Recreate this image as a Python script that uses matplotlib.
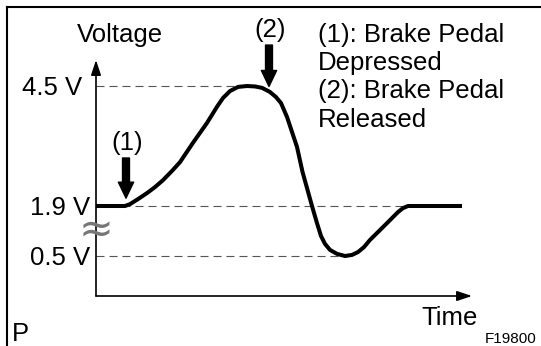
import numpy as np
import matplotlib.pyplot as plt
from matplotlib.lines import Line2D

plt.rcParams["font.family"] = ["Liberation Sans", "DejaVu Sans"]

# 制动踏板开关电压波形
time_s = [0, 2.9, 3.4, 4.2, 5.1, 5.9, 6.7, 7.6, 8.4, 9.7, 11.1, 12.1, 12.7, 13.4,
          14.2, 15.1, 15.9, 16.6, 17.4, 18.0, 18.5, 19.1, 20.1, 20.65, 21.6, 22.1,
          22.5, 22.9, 23.4, 24.1, 24.9, 25.6, 26.2, 26.8, 27.4, 29.1, 30.2, 30.7,
          31.2, 36.6]
volts = [1.9, 1.9, 1.94, 2.05, 2.18, 2.31, 2.46, 2.66, 2.85, 3.27, 3.70, 4.05, 4.24,
         4.39, 4.48, 4.5, 4.49, 4.46, 4.37, 4.26, 4.13, 3.83, 3.18, 2.64, 1.9, 1.42,
         1.06, 0.84, 0.67, 0.56, 0.5, 0.53, 0.61, 0.75, 0.95, 1.42, 1.73, 1.84,
         1.9, 1.9]

levels = [4.5, 1.9, 0.5]
level_labels = ["4.5 V", "1.9 V", "0.5 V"]
level_ends = [15.1, 31.2, 24.9]      # 虚线画到曲线处

press_t, release_t = 3.0, 17.3
legend_lines = ["(1): Brake Pedal", "Depressed", "(2): Brake Pedal", "Released"]

# 纵轴在1.9V和0.5V之间断开，用分段线性刻度
vk = [-1, 0, 0.5, 1.9, 4.5, 6]
hk = [-80, 0, 40, 90, 210, 279]


def fwd(v):
    return np.interp(v, vk, hk)


def inv(h):
    return np.interp(h, hk, vk)


W, H = 541, 346
FS = 18.5
fig = plt.figure(figsize=(W / 100, H / 100), dpi=100)


def fx(px):
    return px / W


def fy(py):
    return 1 - py / H


def label(px, py, s, size=FS, ha="left", **kw):
    # py 为大写字母的垂直中心
    cap = 0.688 * size * 100 / 72
    fig.text(fx(px), fy(py + cap / 2), s, ha=ha, va="baseline", fontsize=size, **kw)


ax = fig.add_axes([fx(96), fy(296), (472 - 96) / W, (296 - 60) / H])
ax.set_yscale("function", functions=(fwd, inv))
ax.set_xlim(0, 37.6)
ax.set_ylim(0, inv(236))
ax.axis("off")

# 坐标轴箭头
ax.annotate("", xy=(1, 0), xytext=(0, 0), xycoords="axes fraction",
            arrowprops=dict(arrowstyle="-|>,head_length=0.9,head_width=0.3",
                            lw=1.2, color="black", shrinkA=0, shrinkB=0))
ax.annotate("", xy=(0, 1), xytext=(0, 0), xycoords="axes fraction",
            arrowprops=dict(arrowstyle="-|>,head_length=0.9,head_width=0.3",
                            lw=1.2, color="black", shrinkA=0, shrinkB=0))

# 参考虚线和电压标签
label_x = [82, 90, 90]
for v, lab, end, lx in zip(levels, level_labels, level_ends, label_x):
    ax.plot([0, end], [v, v], color="#555555", lw=0.8, ls=(0, (7.2, 4.5)))
    py = 296 - fwd(v)
    label(lx, py, lab, ha="right")

ax.plot(time_s, volts, color="black", lw=2.9, solid_joinstyle="round",
        solid_capstyle="butt", clip_on=False)

# 踏板动作箭头
arrow = dict(arrowstyle="simple,head_length=1.15,head_width=1.1,tail_width=0.5",
             mutation_scale=10, color="black", shrinkA=0, shrinkB=0)
ax.annotate("", xy=(press_t, 2.07), xytext=(press_t, 2.94), arrowprops=arrow,
            annotation_clip=False)
ax.annotate("", xy=(release_t, 4.49), xytext=(release_t, 5.39), arrowprops=arrow,
            annotation_clip=False)

# 文字
label(127, 141, "(1)", ha="center")
label(270, 28, "(2)", ha="center")
label(120, 33, "Voltage", ha="center")
label(421, 316, "Time")
label(485, 338, "F19800", size=11)
label(12, 332, "P")
fig.text(fx(96), fy(230), "≈", ha="center", va="center", fontsize=30,
         color="#777777", family="DejaVu Sans")
for i, line in enumerate(legend_lines):
    label(318, 33 + i * 28.3, line)

# 外框（只露出上边和左边）
fig.add_artist(Line2D([fx(7), 1], [fy(7), fy(7)], color="black", lw=1.5))
fig.add_artist(Line2D([fx(7), fx(7)], [fy(7), 0], color="black", lw=1.5))

fig.savefig("out.png", dpi=100)
